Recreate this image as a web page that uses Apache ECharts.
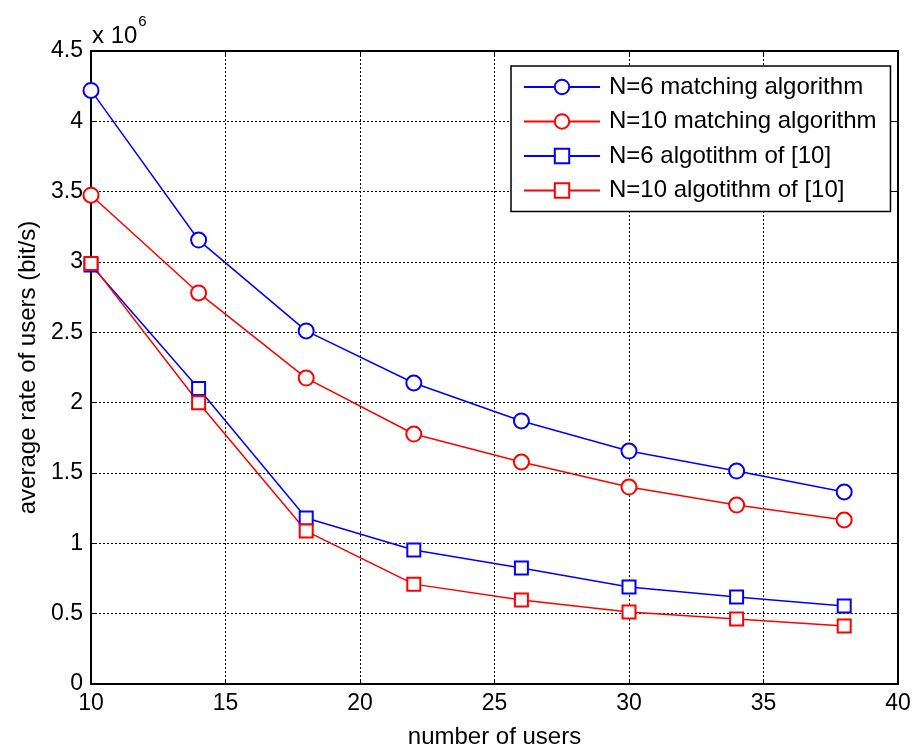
<!DOCTYPE html>
<html>
<head>
<meta charset="utf-8">
<script src="https://cdn.jsdelivr.net/npm/echarts@6/dist/echarts.min.js"></script>
<style>html,body{margin:0;padding:0;background:#fff;}#c{width:913px;height:749px;}</style>
</head>
<body>
<div id="c"></div>
<script>
var users = [10, 14, 18, 22, 26, 30, 34, 38];
var n6Matching = [4.22, 3.156, 2.51, 2.14, 1.87, 1.656, 1.514, 1.365];
var n10Matching = [3.475, 2.78, 2.175, 1.777, 1.578, 1.40, 1.272, 1.166];
var n6Ref = [2.978, 2.10, 1.18, 0.952, 0.824, 0.69, 0.618, 0.554];
var n10Ref = [2.99, 2.0, 1.087, 0.71, 0.597, 0.512, 0.462, 0.412];
var seriesNames = ['N=6 matching algorithm', 'N=10 matching algorithm', 'N=6 algotithm of [10]', 'N=10 algotithm of [10]'];

function pairs(vals) { return users.map(function (u, i) { return [u, vals[i]]; }); }

var font = 'Liberation Sans, Arial, sans-serif';
var chart = echarts.init(document.getElementById('c'));
function mk(name, vals, color, sym, size) {
  return {
    name: name, type: 'line', data: pairs(vals), symbol: sym, symbolSize: size,
    showAllSymbol: true,
    lineStyle: { color: color, width: 1.5 },
    itemStyle: { color: color, borderColor: color, borderWidth: 1.5 },
    emphasis: { disabled: true }, animation: false
  };
}
var axisLine = { show: true, onZero: false, lineStyle: { color: '#000', width: 2 } };
var axisTick = { show: true, inside: true, length: 5, lineStyle: { color: '#000', width: 1 } };
chart.setOption({
  animation: false,
  grid: { left: 91, top: 51, right: 15, bottom: 65, outerBoundsMode: 'none', containLabel: false },
  legend: {
    left: 511, top: 66, orient: 'vertical',
    data: seriesNames,
    itemWidth: 76, itemHeight: 18, itemGap: 10.5,
    padding: [9, 14, 9, 12],
    backgroundColor: '#fff', borderColor: '#000', borderWidth: 1.5,
    textStyle: { fontFamily: font, fontSize: 24, color: '#000', padding: [0, 0, 0, 4] },
    inactiveColor: '#ccc'
  },
  xAxis: [{
    type: 'value', min: 10, max: 40, interval: 5, position: 'bottom',
    name: 'number of users', nameLocation: 'middle', nameGap: 41,
    nameTextStyle: { fontFamily: font, fontSize: 24, color: '#000' },
    axisLabel: { fontFamily: font, fontSize: 23, color: '#000', margin: 8 },
    splitLine: { show: true, lineStyle: { color: '#000', type: [2, 2], width: 1 } },
    axisLine: axisLine, axisTick: axisTick
  }, {
    type: 'value', min: 10, max: 40, interval: 5, position: 'top',
    axisLabel: { show: false }, splitLine: { show: false },
    axisLine: axisLine, axisTick: axisTick
  }],
  yAxis: [{
    type: 'value', min: 0, max: 4.5, interval: 0.5, position: 'left',
    name: 'average rate of users (bit/s)', nameLocation: 'middle', nameGap: 43,
    nameTextStyle: { fontFamily: font, fontSize: 24, color: '#000' },
    axisLabel: { fontFamily: font, fontSize: 23, color: '#000', margin: 8 },
    splitLine: { show: true, lineStyle: { color: '#000', type: [2, 2], width: 1 } },
    axisLine: axisLine, axisTick: axisTick
  }, {
    type: 'value', min: 0, max: 4.5, interval: 0.5, position: 'right',
    axisLabel: { show: false }, splitLine: { show: false },
    axisLine: axisLine, axisTick: axisTick
  }],
  graphic: [{
    type: 'text', left: 92, top: 14,
    style: {
      text: '{a|x 10}{b|6}',
      rich: {
        a: { fontFamily: font, fontSize: 24, fill: '#000', padding: [10, 0, 0, 0] },
        b: { fontFamily: font, fontSize: 15, fill: '#000', verticalAlign: 'top', padding: [0, 0, 12, 1] }
      }
    }
  }],
  series: [
    mk(seriesNames[0], n6Matching, '#0000ff', 'emptyCircle', 15),
    mk(seriesNames[1], n10Matching, '#ff0000', 'emptyCircle', 15),
    mk(seriesNames[2], n6Ref, '#0000ff', 'emptyRect', 13),
    mk(seriesNames[3], n10Ref, '#ff0000', 'emptyRect', 13)
  ]
});
</script>
</body>
</html>
